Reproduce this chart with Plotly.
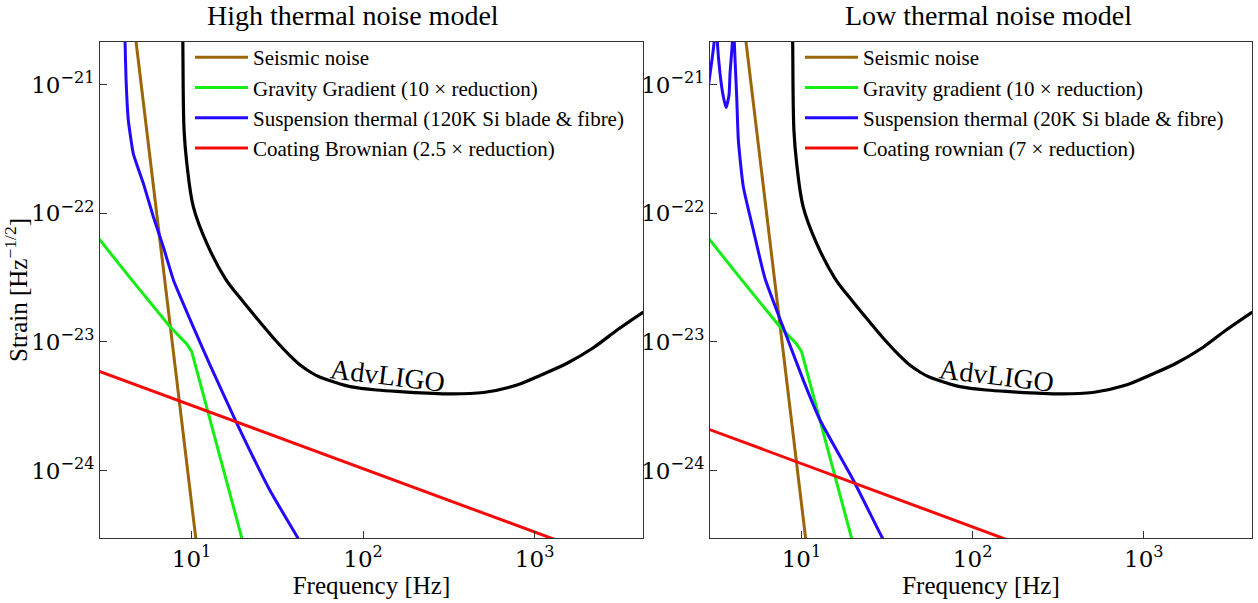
import plotly.graph_objects as go

# ---------------- data ----------------
# Seismic noise (same in both panels)
seis_f = [4.47, 11.22]
seis_h = [4.17e-21, 1.55e-25]

# Gravity gradient (10x reduction), same in both panels
gg_f = [2.85, 4.477, 7.49, 9.376, 10.02, 19.63, 20.89]
gg_h = [6.45e-23, 3.03e-23, 1.31e-23, 9.64e-24, 8.40e-24, 3.01e-25, 2.19e-25]

# AdvLIGO sensitivity (same in both panels)
ligo_f = [8.83, 8.89, 9.04, 9.38, 10.24, 12.27, 15.69, 20.0, 25.09, 31.0, 37.56, 42.95,
          50.0, 56.23, 70.0, 84.14, 120.0, 164.7, 322.1, 503.5, 788.8, 1100, 1545,
          2200, 3027, 4305]
ligo_h = [3.98e-21, 2.14e-21, 4.42e-22, 2.44e-22, 1.122e-22, 5.83e-23, 3.12e-23,
          2.05e-23, 1.422e-23, 1.02e-23, 7.78e-24, 6.60e-24, 5.75e-24, 5.30e-24,
          4.80e-24, 4.49e-24, 4.22e-24, 4.10e-24, 3.94e-24, 4.04e-24, 4.62e-24,
          5.55e-24, 6.82e-24, 9.00e-24, 1.236e-23, 1.706e-23]

# High thermal noise model
susp_hi_f = [4.036, 4.093, 4.150, 4.276, 4.571, 5.236, 5.984, 6.839, 7.834,
             10.02, 12.82, 18.18, 28.71, 41.26, 44.67]
susp_hi_h = [4.27e-21, 2.14e-21, 1.079e-21, 5.28e-22, 2.91e-22, 1.702e-22,
             9.38e-23, 5.48e-23, 3.03e-23, 1.393e-23, 6.59e-24, 2.39e-24,
             6.95e-25, 3.05e-25, 2.51e-25]
coat_hi_f = [2.85, 1318]
coat_hi_h = [5.95e-24, 2.90e-25]

# Low thermal noise model
susp_lo_f = [2.85, 2.928, 3.027, 3.090, 3.155, 3.228, 3.347, 3.485, 3.628,
             3.776, 3.828, 3.949, 3.999, 4.055, 4.188, 4.281, 4.577, 5.236,
             6.124, 7.665, 10.24, 12.82, 20.04, 29.36, 31.62]
susp_lo_h = [9.33e-22, 1.216e-21, 1.687e-21, 2.14e-21, 6.31e-21, 2.14e-21,
             1.216e-21, 8.26e-22, 6.62e-22, 8.26e-22, 1.216e-21, 2.14e-21,
             6.31e-21, 2.14e-21, 8.02e-22, 3.70e-22, 1.603e-22, 7.40e-23,
             3.12e-23, 1.393e-23, 5.06e-24, 2.48e-24, 8.47e-25, 3.08e-25,
             2.57e-25]
coat_lo_f = [2.85, 158.5]
coat_lo_h = [2.10e-24, 2.90e-25]

legend_hi = ["Seismic noise", "Gravity Gradient (10 × reduction)",
             "Suspension thermal (120K Si blade &amp; fibre)",
             "Coating Brownian (2.5 × reduction)"]
legend_lo = ["Seismic noise", "Gravity gradient (10 × reduction)",
             "Suspension thermal (20K Si blade &amp; fibre)",
             "Coating rownian (7 × reduction)"]

x_tickvals = [10, 100, 1000]
x_ticktext = ["10<sup>1</sup>", "10<sup>2</sup>", "10<sup>3</sup>"]
y_tickvals = [1e-21, 1e-22, 1e-23, 1e-24]
y_ticktext = ["10<sup>−21</sup>", "10<sup>−22</sup>", "10<sup>−23</sup>", "10<sup>−24</sup>"]

# ---------------- styles ----------------
C_SEIS = "rgb(155,101,10)"
C_GG = "rgb(20,238,20)"
C_SUSP = "rgb(35,10,255)"
C_COAT = "rgb(245,10,10)"
SERIF = "'Liberation Serif', 'Times New Roman', Times, serif"
MATH = "'DejaVu Serif', serif"

fig = go.Figure()

def add_panel(xa, ya, legend_name, labels, susp_f, susp_h, coat_f, coat_h, susp_smooth):
    fig.add_trace(go.Scatter(x=ligo_f, y=ligo_h, mode="lines", xaxis=xa, yaxis=ya,
                             line=dict(color="black", width=3.2, shape="spline", smoothing=1.0),
                             showlegend=False, hoverinfo="skip"))
    fig.add_trace(go.Scatter(x=seis_f, y=seis_h, mode="lines", xaxis=xa, yaxis=ya,
                             line=dict(color=C_SEIS, width=3), name=labels[0], legend=legend_name))
    fig.add_trace(go.Scatter(x=gg_f, y=gg_h, mode="lines", xaxis=xa, yaxis=ya,
                             line=dict(color=C_GG, width=3), name=labels[1], legend=legend_name))
    fig.add_trace(go.Scatter(x=susp_f, y=susp_h, mode="lines", xaxis=xa, yaxis=ya,
                             line=dict(color=C_SUSP, width=3, shape="spline", smoothing=susp_smooth),
                             name=labels[2], legend=legend_name))
    fig.add_trace(go.Scatter(x=coat_f, y=coat_h, mode="lines", xaxis=xa, yaxis=ya,
                             line=dict(color=C_COAT, width=3), name=labels[3], legend=legend_name))

add_panel("x", "y", "legend", legend_hi, susp_hi_f, susp_hi_h, coat_hi_f, coat_hi_h, 0.4)
add_panel("x2", "y2", "legend2", legend_lo, susp_lo_f, susp_lo_h, coat_lo_f, coat_lo_h, 0.5)

W, H = 1258, 603
xr = [0.466, 3.632]
yr = [-24.525, -20.669]

axis_common = dict(type="log", showgrid=False, zeroline=False, showline=True,
                   linecolor="#333", linewidth=1, mirror=True, ticks="inside",
                   ticklen=7, tickcolor="#333",
                   tickfont=dict(family=MATH, size=23, color="black"))

title_font = dict(family=SERIF, size=25, color="black")

fig.update_layout(
    width=W, height=H, margin=dict(l=0, r=0, t=0, b=0),
    paper_bgcolor="white", plot_bgcolor="white",
    font=dict(family=SERIF, color="black"),
    xaxis=dict(axis_common, domain=[100 / W, 643 / W], range=xr, anchor="y",
               tickvals=x_tickvals, ticktext=x_ticktext,
               title=dict(text="Frequency [Hz]", font=title_font, standoff=0)),
    yaxis=dict(axis_common, domain=[1 - 538 / H, 1 - 42 / H], range=yr, anchor="x",
               tickvals=y_tickvals, ticktext=y_ticktext,
               title=dict(text="Strain [Hz<sup>−1/2</sup>]", font=title_font, standoff=2)),
    xaxis2=dict(axis_common, domain=[710 / W, 1252 / W], range=xr, anchor="y2",
                tickvals=x_tickvals, ticktext=x_ticktext,
                title=dict(text="Frequency [Hz]", font=title_font, standoff=0)),
    yaxis2=dict(axis_common, domain=[1 - 538 / H, 1 - 42 / H], range=yr, anchor="x2",
                tickvals=y_tickvals, ticktext=y_ticktext),
    legend=dict(x=190 / W, y=1 - 37 / H, xanchor="left", yanchor="top",
                bgcolor="rgba(0,0,0,0)", borderwidth=0, itemwidth=53,
                font=dict(family=SERIF, size=21, color="black"), tracegroupgap=0),
    legend2=dict(x=800 / W, y=1 - 37 / H, xanchor="left", yanchor="top",
                 bgcolor="rgba(0,0,0,0)", borderwidth=0, itemwidth=53,
                 font=dict(family=SERIF, size=21, color="black"), tracegroupgap=0),
    annotations=[
        dict(text="High thermal noise model", x=353 / W, y=1 - 16 / H,
             xref="paper", yref="paper", showarrow=False, xanchor="center", yanchor="middle",
             font=dict(family=SERIF, size=28, color="black")),
        dict(text="Low thermal noise model", x=988 / W, y=1 - 16 / H,
             xref="paper", yref="paper", showarrow=False, xanchor="center", yanchor="middle",
             font=dict(family=SERIF, size=28, color="black")),
        dict(text="AdvLIGO", x=2.14, y=-23.265, xref="x", yref="y", showarrow=False,
             textangle=7, font=dict(family=SERIF, size=28, color="black")),
        dict(text="AdvLIGO", x=2.14, y=-23.265, xref="x2", yref="y2", showarrow=False,
             textangle=7, font=dict(family=SERIF, size=28, color="black")),
    ],
    showlegend=True,
)

fig.write_html("out.html")
